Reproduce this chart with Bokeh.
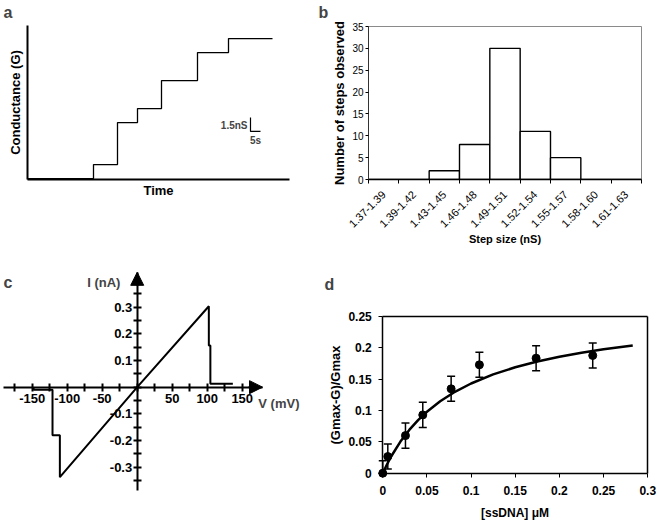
import math
from bokeh.plotting import figure
from bokeh.models import (Range1d, FixedTicker, LinearAxis, Label, Arrow, NormalHead,
                          Whisker, TeeHead, ColumnDataSource, CustomJSTickFormatter)
from bokeh.layouts import column, row
from bokeh.embed import file_html
from bokeh.resources import INLINE

FONT = "Liberation Sans"

# ---------------- panel a : conductance trace ----------------
step_times = [0, 33, 45, 55, 67, 85, 100.5, 122.5]          # s
step_levels = [0, 1.5, 6.0, 7.5, 10.5, 13.5, 15.0, 15.0]    # nS
a_t_max = 131
a_g_min = -0.1
a_g_max = 16.4
scale_bar_g = 1.5      # nS
scale_bar_t = 5        # s
scale_bar_t0 = 111.5
scale_bar_g0 = 5.05

# ---------------- panel b : histogram of step sizes ----------------
step_bins = ["1.37-1.39", "1.39-1.42", "1.43-1.45", "1.46-1.48", "1.49-1.51",
             "1.52-1.54", "1.55-1.57", "1.58-1.60", "1.61-1.63"]
step_counts = [0, 0, 2, 8, 30, 11, 5, 0, 0]
count_ticks = [0, 5, 10, 15, 20, 25, 30, 35]

# ---------------- panel c : I-V curve ----------------
iv_v = [-148, -148, -121, -121, -110.5, -110.5, 0, 102.3, 102.3, 104.5, 104.5, 136.6]   # mV
iv_i = [0, -0.01, -0.01, -0.18, -0.18, -0.337, 0, 0.303, 0.156, 0.156, 0.013, 0.013]   # nA
v_ticks = [-175, -150, -125, -100, -75, -50, -25, 0, 25, 50, 75, 100, 125, 150]
i_ticks = [-0.35, -0.3, -0.25, -0.2, -0.15, -0.1, -0.05, 0, 0.05, 0.1, 0.15, 0.2, 0.25, 0.3, 0.35]
v_axis_start = -191
v_axis_end = 179
i_axis_start = -0.387
i_axis_end = 0.43

# ---------------- panel d : binding curve ----------------
conc = [0, 0.0057, 0.0257, 0.0453, 0.0774, 0.1094, 0.1736, 0.2377]     # uM
frac = [0, 0.0266, 0.060, 0.093, 0.1346, 0.1729, 0.1835, 0.1878]
frac_err = [0.02, 0.02, 0.02, 0.02, 0.02, 0.02, 0.02, 0.02]
fit_x = [0, 0.005, 0.01, 0.02, 0.03, 0.04, 0.05, 0.065, 0.08, 0.1, 0.125, 0.15,
         0.175, 0.2, 0.225, 0.25, 0.283]
fit_y = [0, 0.0147, 0.0279, 0.0504, 0.0690, 0.0847, 0.0980, 0.1147, 0.1284, 0.1431,
         0.1576, 0.1690, 0.1782, 0.1858, 0.1922, 0.1976, 0.2037]
d_x_ticks = [0, 0.05, 0.1, 0.15, 0.2, 0.25, 0.3]
d_y_ticks = [0, 0.05, 0.1, 0.15, 0.2, 0.25]
d_x_max = 0.3
d_y_max = 0.25


def full_frame_fig(w, h, xr, yr):
    p = figure(width=w, height=h, x_range=xr, y_range=yr, output_backend="svg",
               toolbar_location=None, x_axis_location=None, y_axis_location=None,
               min_border_left=0, min_border_right=0, min_border_top=0, min_border_bottom=0,
               frame_align=False)
    p.grid.visible = False
    p.outline_line_color = None
    return p


def no_ticks(ax):
    ax.ticker = FixedTicker(ticks=[])
    ax.major_tick_out = 0
    ax.major_tick_in = 0
    ax.minor_tick_out = 0
    ax.minor_tick_in = 0
    ax.major_label_standoff = 0


def panel_label(p, x, y, t):
    p.add_layout(Label(x=x, y=y, text=t, text_font=FONT, text_font_style="bold",
                       text_font_size="16px", text_align="left", text_baseline="top"))


# ================= panel a =================
# frame covers the whole figure: t = (px-27)/2, G = (179-py)/9.333 - 0.1
pa = full_frame_fig(329, 255, Range1d(-13.5, 151), Range1d(-8.24, 19.08))
ax_t = LinearAxis(fixed_location=a_g_min, bounds=(0, a_t_max))
ax_g = LinearAxis(fixed_location=0, bounds=(a_g_min, a_g_max))
for ax in (ax_t, ax_g):
    no_ticks(ax)
    ax.axis_line_width = 2
    ax.axis_line_color = "black"
    ax.axis_label_text_font = FONT
    ax.axis_label_text_font_style = "bold"
    ax.axis_label_text_color = "black"
    ax.axis_label_text_font_size = "13px"
ax_t.axis_label = "Time"
ax_t.axis_label_standoff = 3
ax_g.axis_label = "Conductance (G)"
ax_g.axis_label_standoff = 5
pa.add_layout(ax_t, "below")
pa.add_layout(ax_g, "left")
pa.step(step_times, step_levels, mode="after", line_color="black", line_width=1.3)
pa.line([scale_bar_t0, scale_bar_t0, scale_bar_t0 + scale_bar_t],
        [scale_bar_g0 + scale_bar_g, scale_bar_g0, scale_bar_g0],
        line_color="black", line_width=1.2)
pa.add_layout(Label(x=scale_bar_t0 - 1.5, y=scale_bar_g0 + scale_bar_g * 0.45,
                    text=f"{scale_bar_g}nS", text_font=FONT, text_font_style="bold",
                    text_font_size="10px", text_align="right", text_baseline="middle"))
pa.add_layout(Label(x=scale_bar_t0 + scale_bar_t / 2, y=scale_bar_g0 - 0.4,
                    text=f"{scale_bar_t}s", text_font=FONT, text_font_style="bold",
                    text_font_size="10px", text_align="center", text_baseline="top"))
panel_label(pa, -12, 18.7, "a")
panel_label(pa, 145.5, 18.7, "b")

# ================= panel b =================
pb = figure(width=330, height=255, x_range=Range1d(0, len(step_bins)), y_range=Range1d(0, 35),
            output_backend="svg", toolbar_location=None, frame_align=False,
            min_border_left=34, min_border_right=18, min_border_top=26, min_border_bottom=76)
pb.grid.visible = False
pb.outline_line_color = "#8a8a8a"
pb.outline_line_width = 1
bin_centers = [i + 0.5 for i in range(len(step_bins))]
bin_edges = list(range(len(step_bins) + 1))
pb.vbar(x=bin_centers, top=step_counts, width=1, fill_color="white",
        line_color="black", line_width=1.4)
xa = pb.xaxis[0]
xa.ticker = FixedTicker(ticks=bin_centers, minor_ticks=bin_edges)
xa.major_label_overrides = {c: lab for c, lab in zip(bin_centers, step_bins)}
xa.major_tick_line_color = "black"
xa.major_tick_line_alpha = 0
xa.major_tick_out = 13
xa.major_tick_in = 0
xa.minor_tick_out = 4
xa.minor_tick_in = 0
xa.minor_tick_line_color = "black"
xa.axis_line_color = "black"
xa.axis_line_width = 1.5
xa.major_label_orientation = math.pi / 4
xa.major_label_text_font = FONT
xa.major_label_text_font_size = "11px"
xa.major_label_text_color = "black"
xa.major_label_standoff = 0
xa.axis_label = "Step size (nS)"
xa.axis_label_text_font = FONT
xa.axis_label_text_font_style = "bold"
xa.axis_label_text_font_size = "11px"
xa.axis_label_text_color = "black"
xa.axis_label_standoff = -1
ya = pb.yaxis[0]
ya.ticker = FixedTicker(ticks=count_ticks)
ya.minor_tick_out = 0
ya.minor_tick_in = 0
ya.major_tick_out = 3
ya.major_tick_in = 0
ya.axis_line_color = "#333333"
ya.major_label_text_font = FONT
ya.major_label_text_font_size = "10px"
ya.major_label_text_color = "black"
ya.major_label_standoff = 2
ya.axis_label = "Number of steps observed"
ya.axis_label_text_font = FONT
ya.axis_label_text_font_style = "bold"
ya.axis_label_text_font_size = "13px"
ya.axis_label_text_color = "black"
ya.axis_label_standoff = 2

# ================= panel c =================
# V = (px-136.7)/0.7 ; I = (386.7-py)/267
pc = full_frame_fig(323, 274, Range1d(-195.3, 266.1), Range1d(-0.533, 0.493))
vx = LinearAxis(fixed_location=0, bounds=(v_axis_start, v_axis_end),
                ticker=FixedTicker(ticks=v_ticks),
                formatter=CustomJSTickFormatter(code="return (tick % 50 == 0 && tick != 0) ? tick.toFixed(0) : '';"))
iy = LinearAxis(fixed_location=0, bounds=(i_axis_start, i_axis_end),
                ticker=FixedTicker(ticks=i_ticks),
                formatter=CustomJSTickFormatter(code="const r = Math.round(tick*100); return (r % 10 == 0 && r != 0) ? tick.toFixed(1) : '';"))
for ax in (vx, iy):
    ax.axis_line_width = 2
    ax.axis_line_color = "black"
    ax.major_tick_line_width = 2
    ax.major_tick_in = 4
    ax.major_tick_out = 4
    ax.minor_tick_out = 0
    ax.minor_tick_in = 0
    ax.major_label_text_font = FONT
    ax.major_label_text_font_style = "bold"
    ax.major_label_text_font_size = "13px"
    ax.major_label_text_color = "black"
vx.major_label_standoff = 3
iy.major_label_standoff = 1
pc.add_layout(vx, "below")
pc.add_layout(iy, "left")
pc.add_layout(Arrow(x_start=v_axis_end - 20, y_start=0, x_end=v_axis_end, y_end=0,
                    line_width=2, end=NormalHead(size=13, fill_color="black", line_color="black")))
pc.add_layout(Arrow(x_start=0, y_start=i_axis_end - 0.05, x_end=0, y_end=i_axis_end,
                    line_width=2, end=NormalHead(size=13, fill_color="black", line_color="black")))
pc.line(iv_v, iv_i, line_color="black", line_width=2)
pc.add_layout(Label(x=-24, y=0.392, text="I (nA)", text_font=FONT, text_font_style="bold",
                    text_font_size="13px", text_align="right", text_baseline="middle"))
pc.add_layout(Label(x=173, y=-0.06, text="V (mV)", text_font=FONT, text_font_style="bold",
                    text_font_size="13px", text_align="left", text_baseline="middle"))
panel_label(pc, -191, 0.425, "c")

# ================= panel d =================
# x = (px-382.3)/883.3 ; y = (472.7-py)/626.8 ; figure spans px 323..659, py 255..529
pdd = full_frame_fig(336, 274, Range1d(-0.0671, 0.3133), Range1d(-0.0898, 0.3473))
fmt_code = "return String(Math.round(tick*100)/100);"
dx = LinearAxis(fixed_location=0, bounds=(0, d_x_max), ticker=FixedTicker(ticks=d_x_ticks),
                formatter=CustomJSTickFormatter(code=fmt_code))
dy = LinearAxis(fixed_location=0, bounds=(0, d_y_max), ticker=FixedTicker(ticks=d_y_ticks),
                formatter=CustomJSTickFormatter(code=fmt_code))
for ax in (dx, dy):
    ax.axis_line_width = 1.5
    ax.axis_line_color = "black"
    ax.major_tick_out = 4
    ax.major_tick_in = 0
    ax.minor_tick_out = 0
    ax.minor_tick_in = 0
    ax.major_label_text_font = FONT
    ax.major_label_text_font_style = "bold"
    ax.major_label_text_font_size = "12px"
    ax.major_label_text_color = "black"
    ax.axis_label_text_font = FONT
    ax.axis_label_text_font_style = "bold"
    ax.axis_label_text_color = "black"
dx.major_label_standoff = 9
dy.major_label_standoff = 7
dx.axis_label = "[ssDNA] \u03bcM"
dx.axis_label_text_font_size = "12px"
dx.axis_label_standoff = 7
dy.axis_label = "(Gmax-G)/Gmax"
dy.axis_label_text_font_size = "13px"
dy.axis_label_standoff = 2
top_ax = LinearAxis(fixed_location=d_y_max, bounds=(0, d_x_max))
right_ax = LinearAxis(fixed_location=d_x_max, bounds=(0, d_y_max))
for ax in (top_ax, right_ax):
    no_ticks(ax)
    ax.major_label_text_font_size = "0px"
    ax.axis_line_width = 1.5
    ax.axis_line_color = "black"
pdd.add_layout(dx, "below")
pdd.add_layout(dy, "left")
pdd.add_layout(top_ax, "above")
pdd.add_layout(right_ax, "right")
src = ColumnDataSource(dict(x=conc, y=frac,
                            upper=[y + e for y, e in zip(frac, frac_err)],
                            lower=[max(y - e, 0) for y, e in zip(frac, frac_err)]))
pdd.add_layout(Whisker(base="x", upper="upper", lower="lower", source=src, line_width=1.5,
                       upper_head=TeeHead(size=8, line_width=1.5),
                       lower_head=TeeHead(size=8, line_width=1.5)))
pdd.line(fit_x, fit_y, line_color="black", line_width=2.5)
pdd.scatter("x", "y", source=src, size=8, color="black")
panel_label(pdd, -0.066, 0.315, "d")

layout = column(row(pa, pb), row(pc, pdd))
open("out.html", "w").write(file_html(layout, INLINE))
